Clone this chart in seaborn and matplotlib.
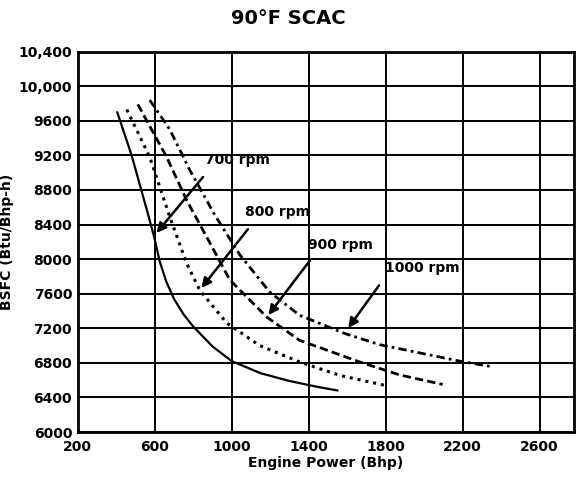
import matplotlib
matplotlib.use('Agg')
import matplotlib.pyplot as plt
import pandas as pd
import seaborn as sns

# engine power (Bhp) and BSFC (Btu/Bhp-h)
power_700 = [405, 420, 450, 480, 530, 570, 600, 625, 660, 700, 750, 800, 900, 1000, 1150, 1300, 1450, 1550]
bsfc_700 = [9700, 9600, 9400, 9200, 8800, 8480, 8230, 7980, 7740, 7540, 7360, 7220, 6990, 6820, 6680, 6590, 6520, 6480]

power_800 = [455, 574, 678, 766, 834, 974, 1145, 1353, 1561, 1795]
bsfc_800 = [9730, 9180, 8490, 7950, 7640, 7260, 7000, 6810, 6655, 6540]

power_900 = [512, 662, 766, 886, 990, 1182, 1353, 1665, 1873, 2096]
bsfc_900 = [9790, 9180, 8680, 8190, 7760, 7330, 7060, 6810, 6660, 6550]

power_1000 = [574, 678, 782, 912, 1042, 1197, 1353, 1587, 1769, 2184, 2340]
bsfc_1000 = [9840, 9500, 9030, 8510, 8050, 7620, 7350, 7140, 7010, 6820, 6760]

x_ticks = [200, 600, 1000, 1400, 1800, 2200, 2600]
y_ticks = [6000, 6400, 6800, 7200, 7600, 8000, 8400, 8800, 9200, 9600, 10000, 10400]
y_tick_labels = ['6000', '6400', '6800', '7200', '7600', '8000', '8400', '8800',
                 '9200', '9600', '10,000', '10,400']

# label text position, arrow tail, arrow tip
labels = ['700 rpm', '800 rpm', '900 rpm', '1000 rpm']
label_pos = [(860, 9150), (1067, 8545), (1395, 8162), (1795, 7896)]
arrow_tail = [(860, 8974), (1093, 8371), (1416, 8012), (1774, 7722)]
arrow_tip = [(600, 8278), (834, 7641), (1182, 7328), (1597, 7177)]

frames = []
for name, p, b in [('700 rpm', power_700, bsfc_700), ('800 rpm', power_800, bsfc_800),
                   ('900 rpm', power_900, bsfc_900), ('1000 rpm', power_1000, bsfc_1000)]:
    frames.append(pd.DataFrame({'power': p, 'bsfc': b, 'rpm': name}))
df = pd.concat(frames, ignore_index=True)

sns.set_style('white')
plt.rcParams['font.family'] = ['DejaVu Sans']
plt.rcParams['text.color'] = 'black'
plt.rcParams['axes.labelcolor'] = 'black'
plt.rcParams['xtick.color'] = 'black'
plt.rcParams['ytick.color'] = 'black'

fig = plt.figure(figsize=(5.76, 4.94), dpi=100)
ax = fig.add_axes([0.135, 0.1255, 0.862, 0.77])

dash_map = {'800 rpm': (1, 1.6), '900 rpm': (3, 1.5), '1000 rpm': (3, 1.5, 1, 1.5)}
for name, lw in [('700 rpm', 1.6), ('800 rpm', 2.2), ('900 rpm', 2.0), ('1000 rpm', 2.0)]:
    sub = df[df['rpm'] == name]
    sns.lineplot(data=sub, x='power', y='bsfc', ax=ax, color='black', lw=lw,
                 linestyle='-' if name == '700 rpm' else (0, dash_map[name]),
                 estimator=None, sort=False, legend=False)

for txt, pos, tail, tip in zip(labels, label_pos, arrow_tail, arrow_tip):
    ax.text(pos[0], pos[1], txt, fontsize=10, fontweight='bold', ha='left', va='center')
    ax.annotate('', xy=tip, xytext=tail,
                arrowprops=dict(arrowstyle='-|>', color='black', lw=1.8, mutation_scale=14))

ax.set_xlim(200, 2780)
ax.set_ylim(6000, 10400)
ax.set_xticks(x_ticks)
ax.set_yticks(y_ticks)
ax.set_yticklabels(y_tick_labels)
ax.grid(True, color='black', lw=1.4)
ax.tick_params(axis='both', length=0, labelsize=10)
ax.tick_params(axis='x', pad=6)
ax.tick_params(axis='y', pad=4)
for lab in ax.get_xticklabels() + ax.get_yticklabels():
    lab.set_fontweight('bold')
for sp in ax.spines.values():
    sp.set_color('black')
    sp.set_linewidth(2)

ax.set_xlabel('Engine Power (Bhp)', fontsize=10, fontweight='bold', labelpad=1)
ax.set_ylabel('BSFC (Btu/Bhp-h)', fontsize=10, fontweight='bold', labelpad=3)
fig.text(0.5, 0.962, '90°F SCAC', ha='center', va='center', fontsize=14, fontweight='bold')

fig.savefig('out.png', dpi=100)
